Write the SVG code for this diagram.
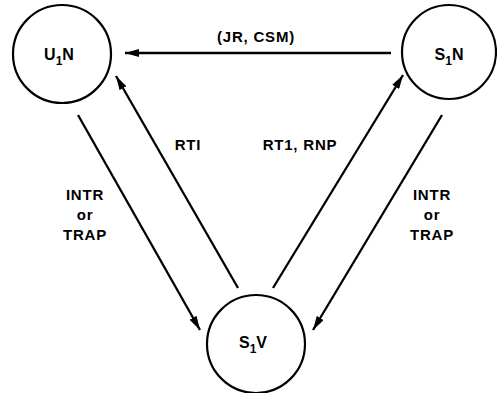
<svg xmlns="http://www.w3.org/2000/svg" width="497" height="393" viewBox="0 0 497 393">
<defs>
<style>
.node{fill:none;stroke:#000;stroke-width:2.2}
.edge{fill:none;stroke:#000;stroke-width:2.3}
text{font-family:"Liberation Sans",Arial,sans-serif;font-weight:bold;font-size:16px;fill:#000}
.lbl{font-size:15px;letter-spacing:0.8px}
.sub{font-size:12px}
</style>
<marker id="ah" viewBox="0 0 14 8" refX="14" refY="4" markerWidth="14" markerHeight="8" markerUnits="userSpaceOnUse" orient="auto">
<path d="M0,0 L14,4 L0,8 Z" fill="#000"/>
</marker>
</defs>
<rect width="497" height="393" fill="#fff"/>
<g id="edges">
<line class="edge" x1="391" y1="53" x2="125" y2="53" marker-end="url(#ah)"/>
<line class="edge" x1="78" y1="115" x2="200" y2="330" marker-end="url(#ah)"/>
<line class="edge" x1="238" y1="288" x2="116" y2="76" marker-end="url(#ah)"/>
<line class="edge" x1="273" y1="288" x2="403" y2="75" marker-end="url(#ah)"/>
<line class="edge" x1="442" y1="115" x2="313" y2="330" marker-end="url(#ah)"/>
<text class="lbl" x="256" y="42" text-anchor="middle">(JR, CSM)</text>
<text class="lbl" x="188" y="150" text-anchor="middle">RTI</text>
<text class="lbl" x="300" y="150" text-anchor="middle">RT1, RNP</text>
<text class="lbl" x="85" y="200" text-anchor="middle">INTR</text>
<text class="lbl" x="85" y="220" text-anchor="middle">or</text>
<text class="lbl" x="85" y="240" text-anchor="middle">TRAP</text>
<text class="lbl" x="432" y="200" text-anchor="middle">INTR</text>
<text class="lbl" x="432" y="220" text-anchor="middle">or</text>
<text class="lbl" x="432" y="240" text-anchor="middle">TRAP</text>
</g>
<g id="U1N">
<circle class="node" cx="62" cy="54" r="49"/>
<text x="59" y="60" text-anchor="middle">U<tspan class="sub" dy="5">1</tspan><tspan dy="-5">N</tspan></text>
</g>
<g id="S1N">
<circle class="node" cx="449" cy="52" r="47"/>
<text x="449" y="60" text-anchor="middle">S<tspan class="sub" dy="5">1</tspan><tspan dy="-5">N</tspan></text>
</g>
<g id="S1V">
<circle class="node" cx="256" cy="344" r="49"/>
<text x="253" y="348" text-anchor="middle">S<tspan class="sub" dy="5">1</tspan><tspan dy="-5">V</tspan></text>
</g>
</svg>
